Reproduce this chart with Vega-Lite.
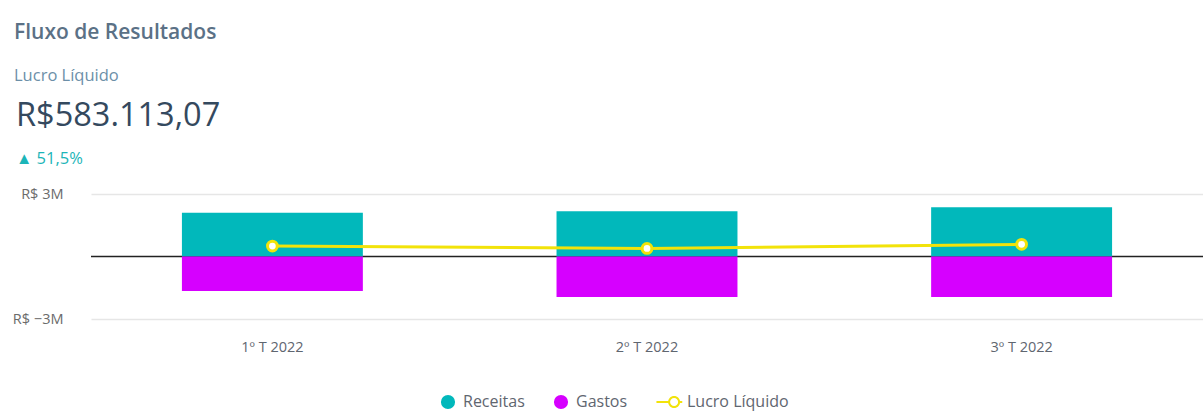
{
  "$schema": "https://vega.github.io/schema/vega-lite/v6.json",
  "background": "white",
  "padding": {"left": 5, "top": 21, "right": 0, "bottom": 14},
  "config": {
    "font": "Open Sans",
    "view": {"stroke": null},
    "concat": {"spacing": 0}
  },
  "title": {
    "text": "Fluxo de Resultados",
    "subtitle": "Lucro Líquido",
    "anchor": "start",
    "frame": "bounds",
    "dx": 9,
    "fontSize": 21,
    "fontWeight": 600,
    "color": "#5B7186",
    "subtitleFontSize": 16.5,
    "subtitleColor": "#6C8FA8",
    "subtitlePadding": 25,
    "offset": 16
  },
  "vconcat": [
    {
      "width": 1112,
      "height": 125,
      "title": {
        "text": "R$583.113,07",
        "subtitle": "▲  51,5%",
        "anchor": "start",
        "frame": "group",
        "dx": -75,
        "fontSize": 32.5,
        "fontWeight": "normal",
        "color": "#34495E",
        "subtitleFontSize": 16.5,
        "subtitleColor": "#1CB5B8",
        "subtitlePadding": 18,
        "offset": 19
      },
      "data": {
        "values": [
          {"trimestre": "1º T 2022", "medida": "Receitas", "valor": 2100000},
          {"trimestre": "1º T 2022", "medida": "Gastos", "valor": -1650000},
          {"trimestre": "1º T 2022", "medida": "Lucro Líquido", "valor": 500000},
          {"trimestre": "2º T 2022", "medida": "Receitas", "valor": 2170000},
          {"trimestre": "2º T 2022", "medida": "Gastos", "valor": -1940000},
          {"trimestre": "2º T 2022", "medida": "Lucro Líquido", "valor": 384900},
          {"trimestre": "3º T 2022", "medida": "Receitas", "valor": 2360000},
          {"trimestre": "3º T 2022", "medida": "Gastos", "valor": -1940000},
          {"trimestre": "3º T 2022", "medida": "Lucro Líquido", "valor": 583113.07}
        ]
      },
      "encoding": {
        "x": {
          "field": "trimestre",
          "type": "nominal",
          "sort": ["1º T 2022", "2º T 2022", "3º T 2022"],
          "scale": {"paddingInner": 0.517, "paddingOuter": 0.2427},
          "axis": {
            "title": null,
            "labelAngle": 0,
            "ticks": false,
            "domain": false,
            "labelPadding": 21,
            "labelFontSize": 14.5,
            "labelColor": "#5f6670"
          }
        },
        "y": {
          "field": "valor",
          "type": "quantitative",
          "scale": {"domain": [-3000000, 3000000], "nice": false, "zero": true},
          "axis": {
            "title": null,
            "values": [-3000000, 3000000],
            "labelExpr": "'R$ ' + replace(format(datum.value / 1000000, 'd'), '-', '−') + 'M'",
            "grid": true,
            "gridColor": "#e6e6e6",
            "gridWidth": 1.5,
            "domain": false,
            "ticks": false,
            "labelPadding": 28,
            "labelFontSize": 14.5,
            "labelColor": "#6b6b6b",
            "minExtent": 86,
            "maxExtent": 86
          }
        }
      },
      "layer": [
        {
          "data": {"values": [{"zero": 0}]},
          "mark": {"type": "rule", "color": "#222222", "strokeWidth": 1.6},
          "encoding": {"x": null, "y": {"field": "zero", "type": "quantitative"}}
        },
        {
          "transform": [{"filter": "datum.medida !== 'Lucro Líquido'"}],
          "mark": {"type": "bar"},
          "encoding": {
            "y": {"field": "valor", "type": "quantitative", "stack": null},
            "color": {
              "field": "medida",
              "type": "nominal",
              "scale": {
                "domain": ["Receitas", "Gastos", "Lucro Líquido"],
                "range": ["#01B8BB", "#D600FF", "#F2E30A"]
              },
              "legend": {
                "title": null,
                "orient": "none",
                "legendX": 349,
                "legendY": 200,
                "direction": "horizontal",
                "symbolType": "circle",
                "symbolSize": 200,
                "symbolOpacity": 1,
                "labelFontSize": 16,
                "labelColor": "#5f6670",
                "labelOffset": 7,
                "columnPadding": 28,
                "encode": {
                  "symbols": {
                    "update": {
                      "shape": {"signal": "datum.value === 'Lucro Líquido' ? 'M1.15,0A0.85,0.85,0,1,1,-0.55,0A0.85,0.85,0,1,1,1.15,0ZM0.87,0A0.57,0.57,0,1,0,-0.27,0A0.57,0.57,0,1,0,0.87,0ZM-2.2,-0.14H-0.53V0.14H-2.2ZM1.13,-0.14H1.45V0.14H1.13Z' : 'circle'"},
                      "fill": {"signal": "datum.value === 'Lucro Líquido' ? '#F2E30A' : (datum.value === 'Gastos' ? '#D600FF' : '#01B8BB')"},
                      "fillOpacity": {"value": 1},
                      "strokeWidth": {"value": 0}
                    }
                  }
                }
              }
            }
          }
        },
        {
          "transform": [{"filter": "datum.medida === 'Lucro Líquido'"}],
          "mark": {"type": "line", "strokeWidth": 3},
          "encoding": {
            "color": {"field": "medida", "type": "nominal"}
          }
        },
        {
          "transform": [{"filter": "datum.medida === 'Lucro Líquido'"}],
          "mark": {"type": "point", "filled": true, "fill": "white", "stroke": "#F2E30A", "strokeWidth": 3, "size": 95, "opacity": 1}
        }
      ]
    }
  ]
}
